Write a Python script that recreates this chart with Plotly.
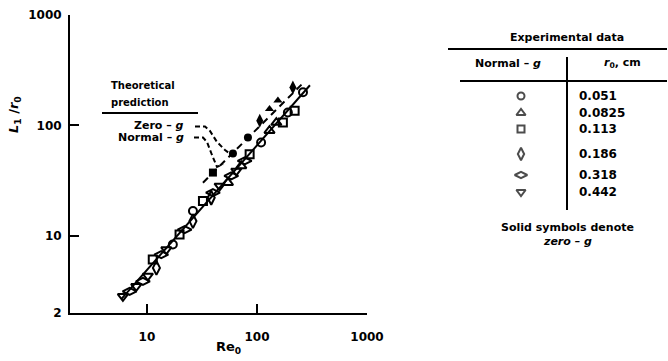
import plotly.graph_objects as go

W, H = 668, 361

# ---- data ----
x_ticks = [10, 100, 1000]
x_tick_labels = ["10", "100", "1000"]
y_ticks = [2, 10, 100, 1000]
y_tick_labels = ["2", "10", "100", "1000"]

# theoretical predictions
theory_normal_re = [5.9, 303]
theory_normal_L = [2.7, 231]
theory_zero_re = [32.3, 267]
theory_zero_L = [30.3, 246]

# experimental normal-g data, by r0 (cm)
r0_labels = ["0.051", "0.0825", "0.113", "0.186", "0.318", "0.442"]
re_051 = [17.2, 26.2, 109, 191, 262]
L_051 = [8.34, 16.8, 70.0, 131, 200]
re_0825 = [54.5, 72.0, 130, 150]
L_0825 = [30.3, 43.0, 89.5, 106]
re_113 = [11.3, 19.8, 32.3, 85.8, 172, 220]
L_113 = [6.1, 10.3, 20.7, 54.8, 106, 136]
re_186 = [12.2, 26.2, 38.4]
L_186 = [5.12, 13.6, 22.1]
re_318 = [6.96, 9.2, 13.5, 22.0, 39.8, 58.4, 77.3]
L_318 = [3.14, 3.87, 6.76, 11.4, 24.6, 34.9, 47.8]
re_442 = [6.05, 8.0, 10.2, 15.0, 45.8, 64.9]
L_442 = [2.83, 3.49, 4.33, 7.5, 28.3, 38.7]

# experimental zero-g data (solid symbols)
zero_re_051 = [60.5, 82.8]
zero_L_051 = [55.6, 77.8]
zero_re_0825 = [130, 155]
zero_L_0825 = [141, 168]
zero_re_113 = [39.8]
zero_L_113 = [37.4]
zero_re_186 = [106, 212]
zero_L_186 = [110, 221]

# ---- styling ----
FONT = "DejaVu Sans"
BLACK = "black"
open_syms = ["circle-open", "triangle-up-open", "square-open",
             "diamond-tall-open", "diamond-wide-open", "triangle-down-open"]
open_sizes = [8, 9, 8, 10, 10, 9]

fig = go.Figure()

fig.add_trace(go.Scatter(x=theory_normal_re, y=theory_normal_L, mode="lines",
                         line=dict(color=BLACK, width=2), showlegend=False))
fig.add_trace(go.Scatter(x=theory_zero_re, y=theory_zero_L, mode="lines",
                         line=dict(color=BLACK, width=2, dash="7px,5px"), showlegend=False))

open_sets = [(re_051, L_051), (re_0825, L_0825), (re_113, L_113),
             (re_186, L_186), (re_318, L_318), (re_442, L_442)]
for (xs, ys), sym, sz in zip(open_sets, open_syms, open_sizes):
    fig.add_trace(go.Scatter(x=xs, y=ys, mode="markers", showlegend=False,
                             marker=dict(symbol=sym, size=sz, color=BLACK,
                                         line=dict(color=BLACK, width=2))))

zero_sets = [(zero_re_051, zero_L_051, "circle", 8),
             (zero_re_0825, zero_L_0825, "triangle-up", 8),
             (zero_re_113, zero_L_113, "square", 8),
             (zero_re_186, zero_L_186, "diamond-tall", 10)]
for xs, ys, sym, sz in zero_sets:
    fig.add_trace(go.Scatter(x=xs, y=ys, mode="markers", showlegend=False,
                             marker=dict(symbol=sym, size=sz, color=BLACK)))

# ---- table symbols on a pixel-coordinate overlay axis ----
row_y = [96, 113, 129, 154, 175, 192]
fig.add_trace(go.Scatter(x=[521] * len(row_y), y=row_y, mode="markers",
                         xaxis="x2", yaxis="y2", showlegend=False,
                         marker=dict(symbol=open_syms, size=[7, 8, 7, 9, 9, 8],
                                     color=BLACK, line=dict(color=BLACK, width=2))))

axis_common = dict(type="log", showgrid=False, zeroline=False, showline=True,
                   linecolor=BLACK, linewidth=2, ticks="inside", ticklen=9,
                   tickwidth=2, tickcolor=BLACK,
                   tickfont=dict(family=FONT, size=12, color=BLACK, weight="bold"))

fig.update_layout(
    width=W, height=H,
    margin=dict(l=0, r=0, t=0, b=0, autoexpand=False),
    paper_bgcolor="white", plot_bgcolor="rgba(0,0,0,0)",
    xaxis=dict(axis_common, domain=[70 / W, 367 / W], range=[0.301, 3],
               tickvals=x_ticks, ticktext=x_tick_labels, ticklabelstandoff=12,
               anchor="y"),
    yaxis=dict(axis_common, domain=[48 / H, 346 / H], range=[0.301, 3],
               tickvals=y_ticks, ticktext=y_tick_labels, ticklabelstandoff=4,
               anchor="x"),
    xaxis2=dict(domain=[0, 1], range=[0, W], visible=False, anchor="y2"),
    yaxis2=dict(domain=[0, 1], range=[H, 0], visible=False, anchor="x2"),
)

shape_line = dict(color=BLACK, width=2)
dash_line = dict(color=BLACK, width=2, dash="5px,3px")
shapes = [
    dict(type="line", xref="x2", yref="y2", x0=448, y0=49, x1=667, y1=49, line=shape_line),
    dict(type="line", xref="x2", yref="y2", x0=460, y0=81, x1=667, y1=81, line=shape_line),
    dict(type="line", xref="x2", yref="y2", x0=567, y0=57, x1=567, y1=210, line=shape_line),
    dict(type="line", xref="x2", yref="y2", x0=102, y0=113, x1=198, y1=113, line=shape_line),
    dict(type="path", xref="x2", yref="y2",
         path="M195,126.5 L205,126.5 L210,131 L217,142 L225,150 L229,153",
         line=dash_line),
    dict(type="path", xref="x2", yref="y2",
         path="M194,137.5 L203,137.5 L207,142 L212,155 L217,167 L223,164",
         line=dash_line),
]
fig.update_layout(shapes=shapes)

def ann(text, x, y, size=11, xanchor="center", angle=0, weight="bold"):
    return dict(text=text, x=x, y=y, xref="x2", yref="y2", showarrow=False,
                xanchor=xanchor, yanchor="middle", textangle=angle,
                font=dict(family=FONT, size=size, color=BLACK, weight=weight))

annotations = [
    ann("Experimental data", 567, 37, size=11),
    ann("Normal – <i>g</i>", 508, 63, size=11),
    ann("<i>r</i><sub>0</sub>, cm", 622, 63, size=11),
    ann("Solid symbols denote", 567, 227, size=11),
    ann("<i>zero – g</i>", 567, 241, size=11),
    ann("Theoretical", 143, 85, size=10),
    ann("prediction", 140, 102, size=10),
    ann("Zero – <i>g</i>", 186, 125, size=11, xanchor="right"),
    ann("Normal – <i>g</i>", 186, 137, size=11, xanchor="right"),
    ann("<i>L</i><sub>1</sub> /<i>r</i><sub>0</sub>", 14, 115, size=13, angle=-90),
    ann("Re<sub>0</sub>", 228, 347, size=13),
]
for lab, yy in zip(r0_labels, row_y):
    annotations.append(ann(lab, 577, yy, size=12, xanchor="left"))
fig.update_layout(annotations=annotations)

fig.write_html("out.html", config={"displayModeBar": False},
               post_script="document.body.style.margin='0';document.body.style.padding='0';")
